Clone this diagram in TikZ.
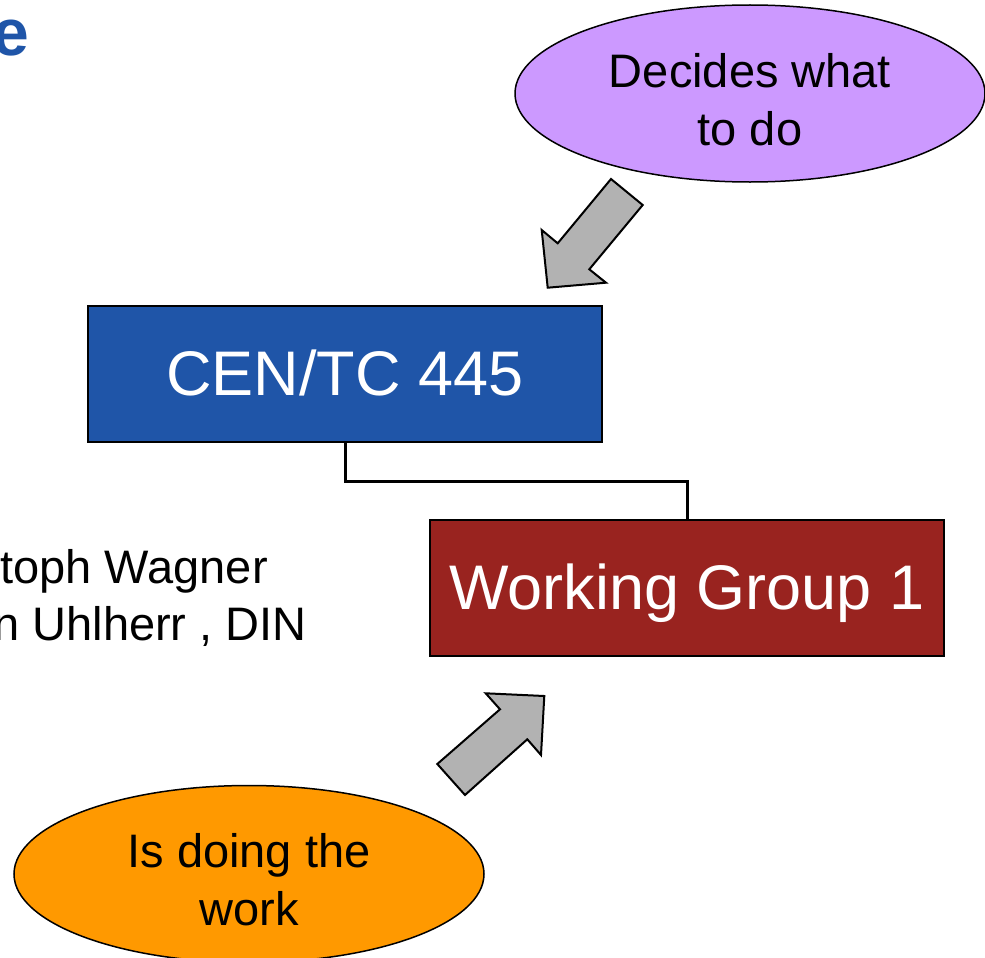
\documentclass[tikz,border=0pt]{standalone}
\usepackage{fontspec}
\setmainfont{Liberation Sans}
\usetikzlibrary{shapes.geometric,calc}
\definecolor{cenblue}{HTML}{1F55A8}
\definecolor{wgred}{HTML}{99231F}
\definecolor{lilac}{HTML}{CC99FF}
\definecolor{orng}{HTML}{FF9900}
\definecolor{arrowgray}{HTML}{B2B2B2}
\begin{document}
\begin{tikzpicture}[x=1pt,y=-1pt,
  bigbox/.style={draw=black,line width=2pt,minimum width=514pt,minimum height=136pt,inner sep=0pt,text=white,font=\fontsize{63}{76}\selectfont,text height=57pt,text depth=13.4pt},
  oval/.style={ellipse,draw=black,line width=1.5pt,minimum width=470pt,minimum height=177pt,inner sep=0pt},
  ovaltext/.style={align=center,inner sep=0pt,font=\fontsize{47}{58}\selectfont},
  plaintext/.style={inner sep=0pt,font=\fontsize{47}{57}\selectfont},
  blockarrow/.style={draw=black,fill=arrowgray,line width=2pt,line join=miter},
  link/.style={draw=black,line width=3pt}]
\useasboundingbox (0,0) rectangle (985,958);
\clip (0,0) rectangle (985,958);
\fill[white] (0,0) rectangle (985,958);
% title fragment
\node[inner sep=0pt,anchor=base east,font=\bfseries\fontsize{66}{79}\selectfont,text=cenblue] (title) at (29,56) {e};
% boxes
\node[bigbox,fill=cenblue] (cen) at (345,374) {CEN/TC 445};
\node[bigbox,fill=wgred] (wg) at (687,588) {Working Group 1};
\draw[link] (cen.south) |- ($(cen.south)!0.5!(wg.north)$) -| (wg.north);
% ellipses
\node[oval,fill=lilac] (decide) at (750,93.5) {};
\node[ovaltext] (decidetxt) at (750,100) {Decides what\\to do};
\node[oval,fill=orng] (work) at (249,874) {};
\node[ovaltext] (worktxt) at (249,880) {Is doing the\\work};
% left text
\node[plaintext,anchor=base east] (name1) at (268,583) {toph Wagner};
\node[plaintext,anchor=base east] (name2) at (307,640) {n Uhlherr , DIN};
% block arrows
\draw[blockarrow] (611,179) -- (642.7,205) -- (589.3,269.3) -- (606,282.7) -- (547.7,287.7) -- (541.7,230) -- (557.7,243.3) -- cycle;
\draw[blockarrow] (437.3,764) -- (465,795) -- (527.3,739.3) -- (541,755) -- (544.3,696) -- (485.7,693.3) -- (500,709.3) -- cycle;
\end{tikzpicture}
\end{document}
